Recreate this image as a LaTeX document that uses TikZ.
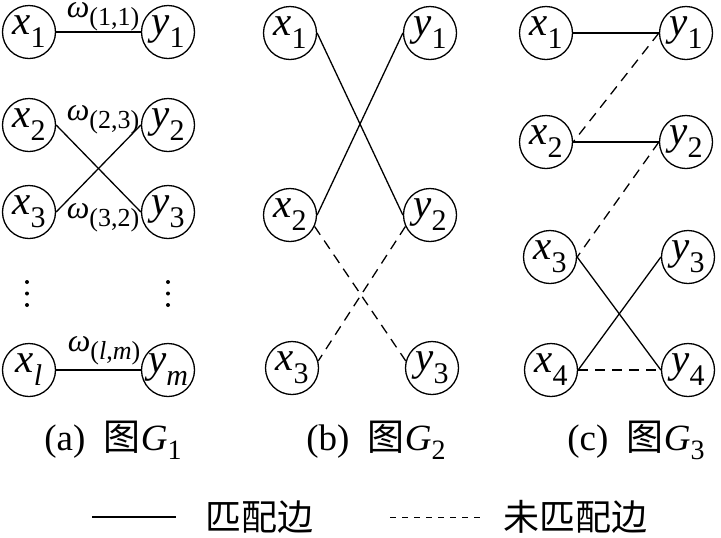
\documentclass[tikz,border=0pt]{standalone}
\usepackage{fontspec}
\setmainfont{Liberation Serif}
\newfontfamily\cjk{Noto Sans CJK SC}
\usetikzlibrary{positioning}
\newcommand{\vsub}[2]{\textit{#1}\raisebox{-6.5pt}{\fontsize{15}{15}\selectfont #2}}
\newcommand{\wlab}[1]{\textit{ω}\raisebox{-4pt}{\fontsize{13}{13}\selectfont (#1)}}
\newcommand{\gsub}[1]{\textit{G}\raisebox{-4.5pt}{\fontsize{14}{14}\selectfont #1}}

\begin{document}
\begin{tikzpicture}[x=0.5pt,y=0.5pt,
  vert/.style={draw,circle,line width=.65pt,minimum size=26.5pt,inner sep=0pt,font=\fontsize{20.5}{20.5}\selectfont},
  match/.style={line width=.65pt},
  nomatch/.style={line width=.65pt,dash pattern=on 5pt off 3.5pt},
  wlabel/.style={font=\fontsize{16}{16}\selectfont,inner sep=0pt},
  caption/.style={font=\fontsize{18.5}{18.5}\selectfont,inner sep=0pt}]
\useasboundingbox (0,0) rectangle (721,-537);
% (a) G1
\foreach \i/\y in {1/-32,2/-125,3/-212}{
\node[vert] (a-x\i) at (29,\y) {\vsub{x}{\i}};
\node[vert] (a-y\i) at (168,\y) {\vsub{y}{\i}};}
\node[vert] (a-xl) at (29,-370) {\vsub{x}{\textit{l}}};
\node[vert] (a-ym) at (168,-370) {\vsub{y}{\textit{m}}};
\foreach \x in {27,168}{\foreach \y in {-282,-293.5,-305}{\fill (\x,\y) circle (1pt);}}
\draw[match] (a-x1) -- (a-y1);
\draw[match] (a-x2.east) -- (a-y3.west);
\draw[match] (a-x3.east) -- (a-y2.west);
\draw[match] (a-xl) -- (a-ym);
\node[wlabel] (w11) at (103,-17) {\wlab{1,1}};
\node[wlabel] (w23) at (103,-120) {\wlab{2,3}};
\node[wlabel] (w32) at (103,-218) {\wlab{3,2}};
\node[wlabel] (wlm) at (104,-351) {\wlab{\textit{l},\textit{m}}};
% (b) G2
\foreach \i/\xa/\xb/\y in {1/290/430/-33,2/290/430/-215,3/292/432/-368}{
\node[vert] (b-x\i) at (\xa,\y) {\vsub{x}{\i}};
\node[vert] (b-y\i) at (\xb,\y) {\vsub{y}{\i}};}
\draw[match] (b-x1.east) -- (b-y2.west);
\draw[match] (b-y1.west) -- (b-x2.east);
\draw[nomatch] (b-x2.-25) -- (b-y3.165);
\draw[nomatch] (b-y2.205) -- (b-x3.15);
% (c) G3
\foreach \i/\xa/\xb/\y in {1/546/686/-33,2/546/686/-142,3/550/688/-257,4/551/688/-370}{
\node[vert] (c-x\i) at (\xa,\y) {\vsub{x}{\i}};
\node[vert] (c-y\i) at (\xb,\y) {\vsub{y}{\i}};}
\draw[match] (c-x1) -- (c-y1);
\draw[nomatch] (c-y1.west) -- (c-x2.east);
\draw[match] (c-x2) -- (c-y2);
\draw[nomatch] (c-y2.west) -- (c-x3.east);
\draw[match] (c-x3.east) -- (c-y4.west);
\draw[match] (c-x4.east) -- (c-y3.west);
\draw[nomatch] (c-x4) -- (c-y4);
% captions
\node[caption] (cap-a) at (113,-440) {(a)\ \ {\cjk 图}\gsub{1}};
\node[caption] (cap-b) at (376,-440) {(b)\ \ {\cjk 图}\gsub{2}};
\node[caption] (cap-c) at (636,-440) {(c)\ \ {\cjk 图}\gsub{3}};
% legend
\coordinate (sol-l) at (92,-517);
\coordinate (sol-r) at (176,-517);
\draw[match] (sol-l) -- (sol-r);
\node[caption,anchor=west,font=\fontsize{18}{18}\selectfont] (sol-t) at (205,-517) {\cjk 匹配边};
\coordinate (das-l) at (390,-517);
\coordinate (das-r) at (482,-517);
\draw[line width=.5pt,dash pattern=on 3pt off 3pt] (das-l) -- (das-r);
\node[caption,anchor=west,font=\fontsize{18}{18}\selectfont] (das-t) at (503,-517) {\cjk 未匹配边};
\end{tikzpicture}
\end{document}
